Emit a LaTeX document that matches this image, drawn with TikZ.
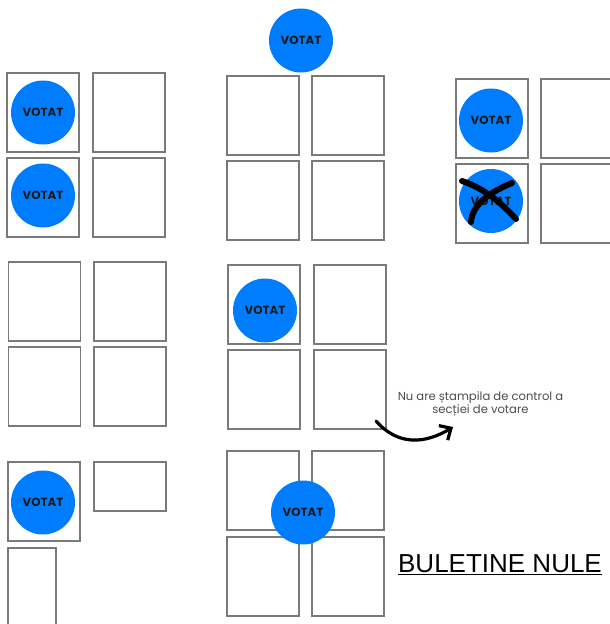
\documentclass[tikz,border=0pt]{standalone}
\usepackage{fontspec}
\setmainfont{Poppins}
\newfontfamily\titlefont{Liberation Sans}
\usetikzlibrary{arrows.meta}
\tikzset{
  ballot/.style={draw=black!52,line width=1.8pt,fill=white,inner sep=0pt,minimum width=72pt,minimum height=79pt},
  stamp/.style={circle,fill=stampblue,inner sep=0pt,minimum size=64pt,font=\bfseries\fontsize{11.8}{11.8}\selectfont,text=black!90}
}
\definecolor{stampblue}{HTML}{007DFF}
\begin{document}
\begin{tikzpicture}[x=1pt,y=-1pt]
      \useasboundingbox (0,0) rectangle (610,624);
      \draw
        (43,112.5) node[ballot] (a1){}
        (129,112.5) node[ballot] (a2){}
        (43,197.5) node[ballot] (a3){}
        (129,197.5) node[ballot] (a4){}
        (263,115.5) node[ballot] (b1){}
        (348,115.5) node[ballot] (b2){}
        (263,200.5) node[ballot] (b3){}
        (348,200.5) node[ballot] (b4){}
        (492,118.5) node[ballot] (c1){}
        (577,118.5) node[ballot] (c2){}
        (492,203.5) node[ballot] (c3){}
        (577,203.5) node[ballot] (c4){}
        (44.5,301.5) node[ballot] (d1){}
        (130,301.5) node[ballot] (d2){}
        (44.5,386.5) node[ballot] (d3){}
        (130,386.5) node[ballot] (d4){}
        (264,304.5) node[ballot] (e1){}
        (350,304.5) node[ballot] (e2){}
        (264,389.5) node[ballot] (e3){}
        (350,389.5) node[ballot] (e4){}
        (44,501.5) node[ballot] (f1){}
        (130,486.5) node[ballot,minimum height=49pt] (f2){}
        (32,590) node[ballot,minimum width=48pt,minimum height=84pt] (f3){}
        (263,490.5) node[ballot] (g1){}
        (348,490.5) node[ballot] (g2){}
        (263,576.5) node[ballot] (g3){}
        (348,576.5) node[ballot] (g4){};
      \draw
        (301,40.5) node[stamp] (s1){VOTAT}
        (43,112.5) node[stamp] (s2){VOTAT}
        (43,195.5) node[stamp] (s3){VOTAT}
        (491,120.5) node[stamp] (s4){VOTAT}
        (491,201) node[stamp] (s5){VOTAT}
        (265,310.5) node[stamp] (s6){VOTAT}
        (43,502.5) node[stamp] (s7){VOTAT}
        (303,512.5) node[stamp] (s8){VOTAT};
      % cross over the spoiled stamp
      \begin{scope}[line width=6pt,line cap=round]
        \draw (462,181) .. controls (480,187) and (497,198) .. (516,219);
        \draw (512,183) .. controls (492,191) and (472,204) .. (471,222);
      \end{scope}
      \node[font=\fontsize{11.6}{13}\selectfont,text=black!70,align=center,inner sep=0pt] (note) at (480.5,404) {Nu are ștampila de control a\\secției de votare};
      \coordinate (from) at (376,421);
      \coordinate (to) at (453,427);
      \draw[-{Straight Barb[length=9pt,width=17pt]},line width=3.2pt,line cap=round] (from) .. controls (398,446) and (425,444) .. (to);
      \node[font=\titlefont\fontsize{26}{26}\selectfont,inner sep=0pt] (title) at (500,565) {\underline{BULETINE NULE}};
    \end{tikzpicture}
\end{document}
